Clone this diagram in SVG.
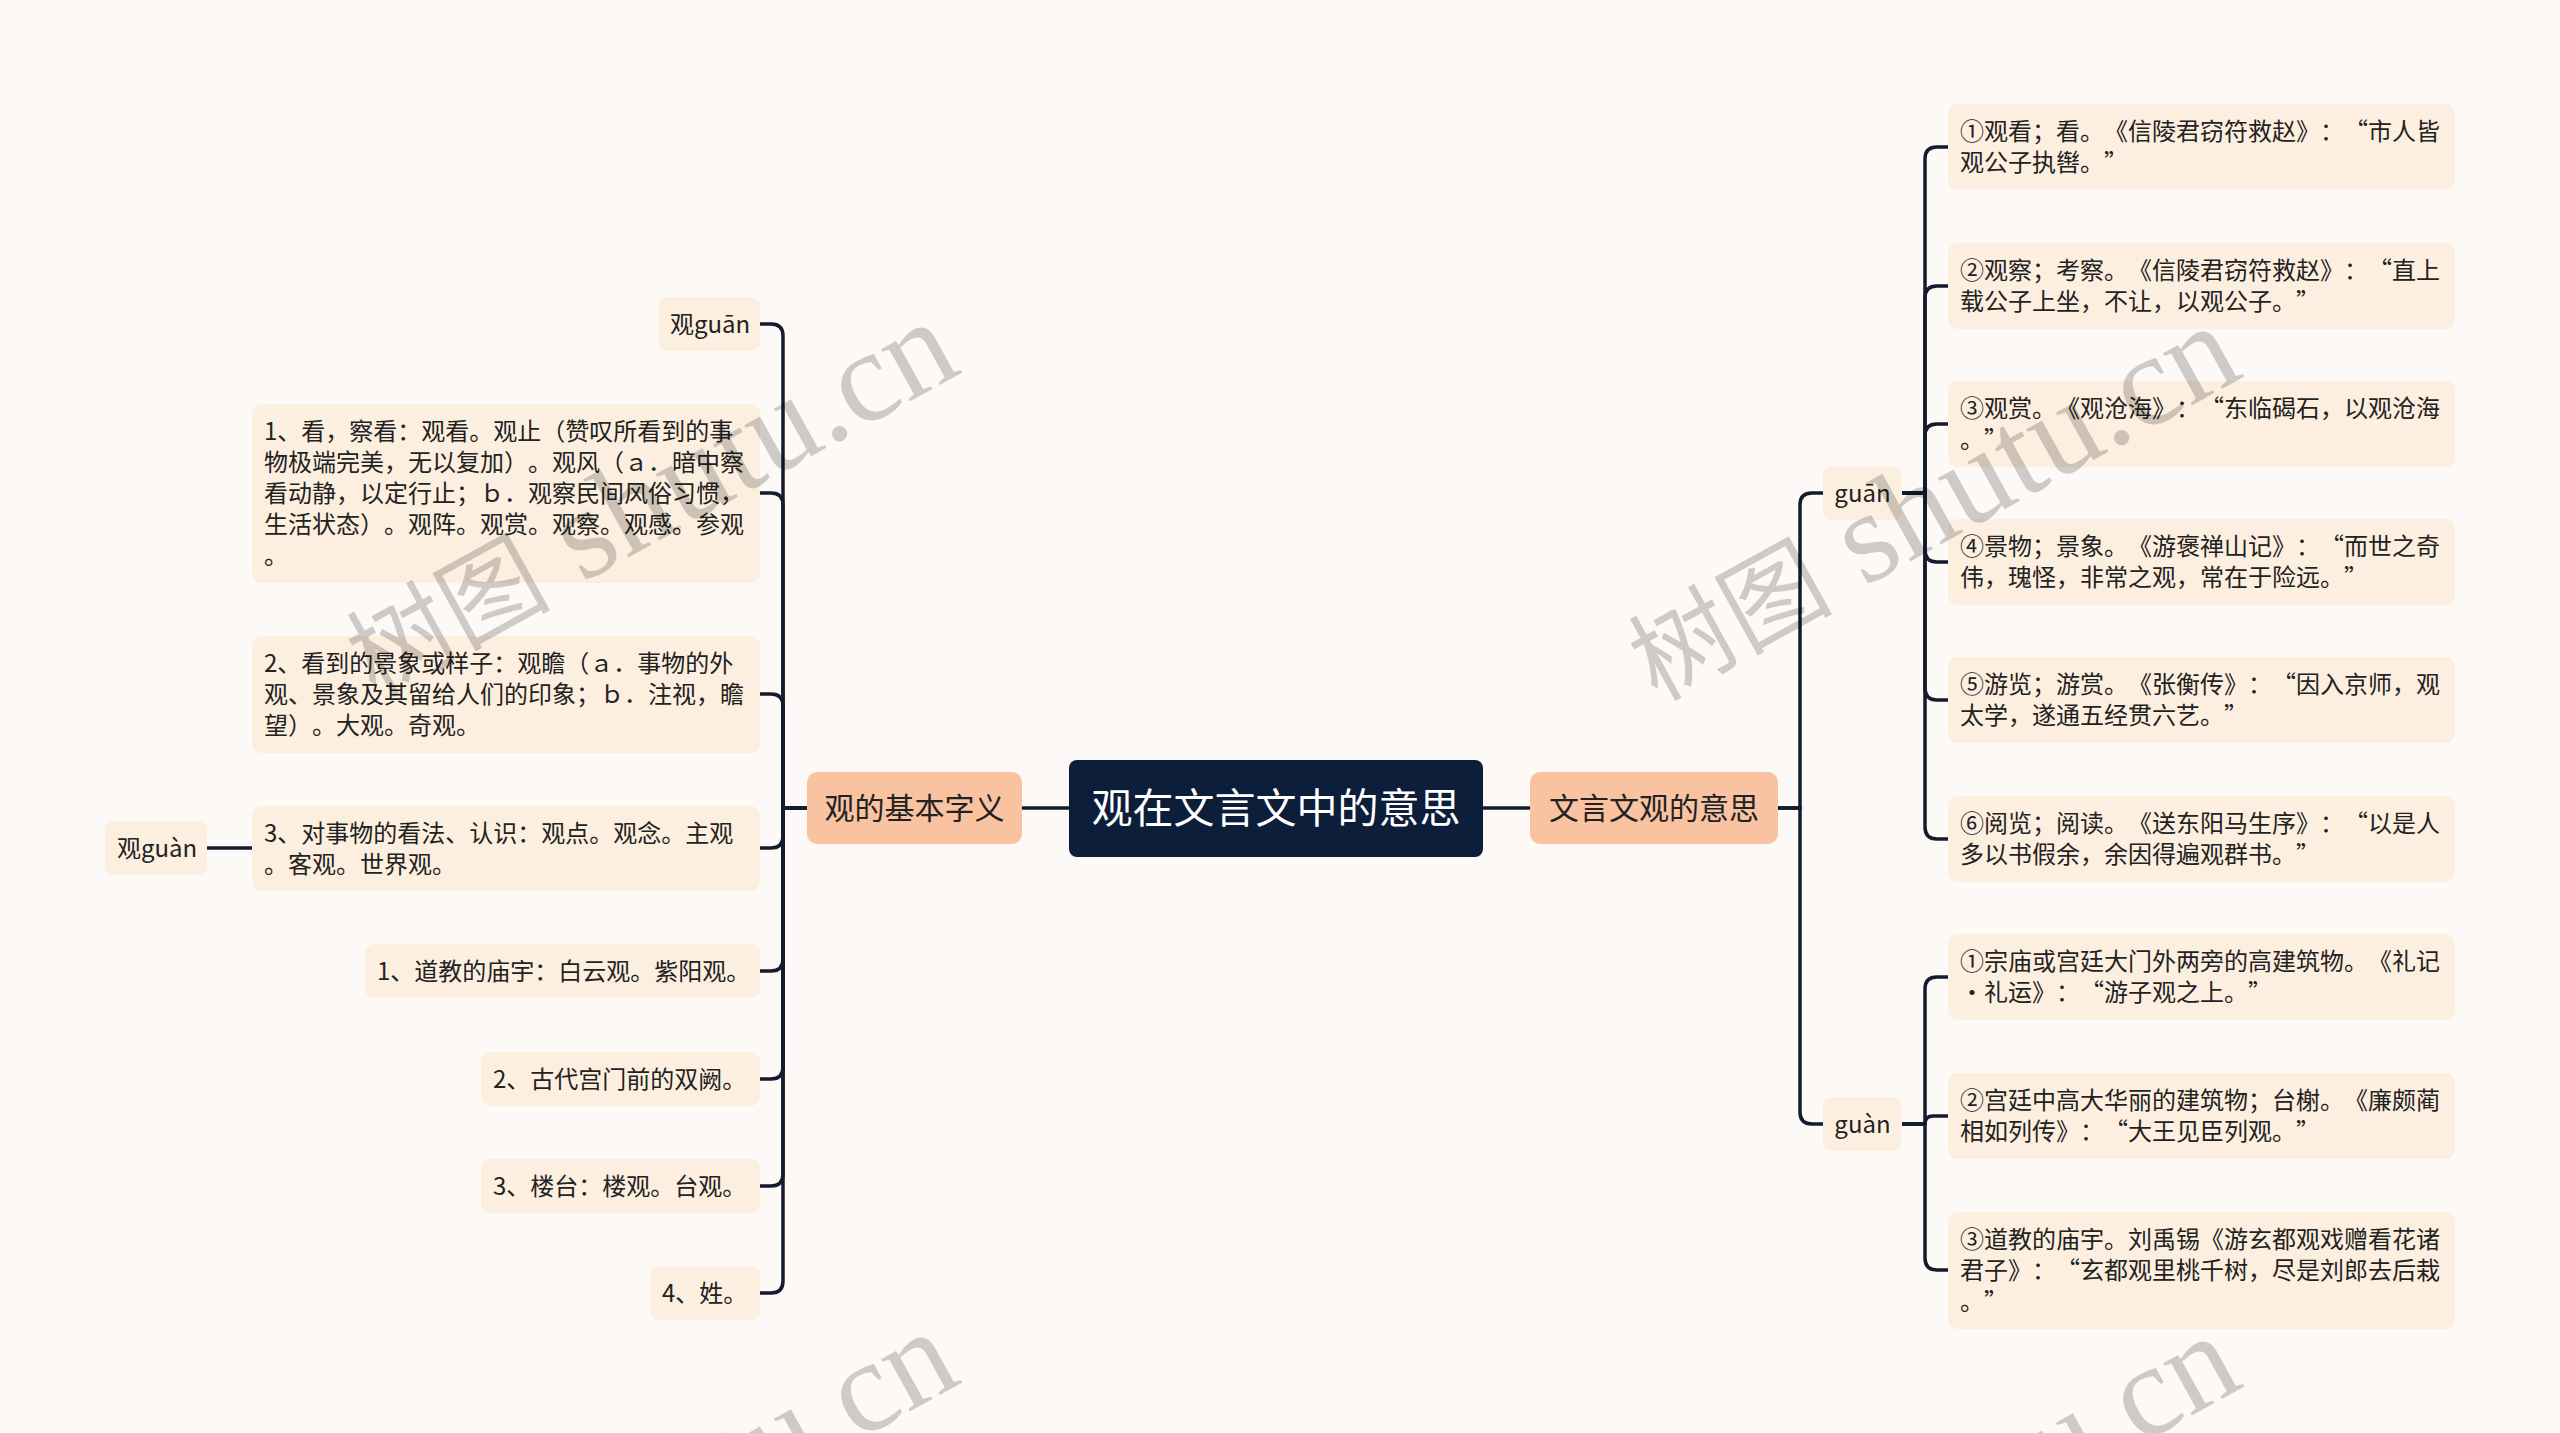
<svg xmlns="http://www.w3.org/2000/svg" width="2560" height="1433" viewBox="0 0 2560 1433">
<style>
.bg{fill:#fdf9f7}
.n rect{fill:#fdefdf}
.l1 rect{fill:#f9c3a2}
.c rect{fill:#0c1e3a}
text{font-family:"Noto Sans CJK SC","Noto Sans",sans-serif;fill:#222;text-spacing-trim:space-all}
.t{font-size:24px}
.q{font-variant-east-asian:full-width}
.l1 text{font-size:30px;text-anchor:middle}
.c text{font-size:41px;text-anchor:middle;fill:#fff}
.mid{text-anchor:middle}
#connectors path{fill:none;stroke:#131c2e;stroke-width:3.5;stroke-linecap:round}
.wm text{fill:#000;fill-opacity:0.19}
.wm .cj{font-family:"Noto Sans CJK SC",sans-serif;font-size:102px}
.wm .la{font-family:"Liberation Serif",serif;font-size:130px}
</style>
<rect class="bg" x="0" y="0" width="2560" height="1433"/>
<g id="connectors">
<path d="M1022,808 H1069"/>
<path d="M1483,808 H1530"/>
<path d="M207,848 H252"/>
<path d="M807,808 H783 V336 Q783,324 771,324 H760"/>
<path d="M807,808 H783 V505 Q783,493 771,493 H760"/>
<path d="M807,808 H783 V706 Q783,694 771,694 H760"/>
<path d="M807,808 H783 V836 Q783,848 771,848 H760"/>
<path d="M807,808 H783 V959 Q783,971 771,971 H760"/>
<path d="M807,808 H783 V1067 Q783,1079 771,1079 H760"/>
<path d="M807,808 H783 V1174 Q783,1186 771,1186 H760"/>
<path d="M807,808 H783 V1281 Q783,1293 771,1293 H760"/>
<path d="M1778,808 H1800 V505 Q1800,493 1812,493 H1823"/>
<path d="M1778,808 H1800 V1112 Q1800,1124 1812,1124 H1823"/>
<path d="M1902,493 H1925 V159 Q1925,147 1937,147 H1948"/>
<path d="M1902,493 H1925 V298 Q1925,286 1937,286 H1948"/>
<path d="M1902,493 H1925 V436 Q1925,424 1937,424 H1948"/>
<path d="M1902,493 H1925 V550 Q1925,562 1937,562 H1948"/>
<path d="M1902,493 H1925 V688 Q1925,700 1937,700 H1948"/>
<path d="M1902,493 H1925 V827 Q1925,839 1937,839 H1948"/>
<path d="M1902,1124 H1925 V989 Q1925,977 1937,977 H1948"/>
<path d="M1902,1124 H1925 Q1925,1116 1933,1116 H1948"/>
<path d="M1902,1124 H1925 V1258 Q1925,1270 1937,1270 H1948"/>
</g>
<g id="center" class="c"><rect x="1069" y="760" width="414" height="97" rx="8"/><text x="1276" y="823">观在文言文中的意思</text></g>
<g id="l1-left" class="l1"><rect x="807" y="772" width="215" height="72" rx="10"/><text x="914.5" y="819">观的基本字义</text></g>
<g id="l1-right" class="l1"><rect x="1530" y="772" width="248" height="72" rx="10"/><text x="1654" y="819">文言文观的意思</text></g>

<g id="n-guan1" class="n t"><rect x="658" y="297" width="102" height="54" rx="9"/><text x="670" y="333">观guān</text></g>
<g id="n-l1" class="n t"><rect x="252" y="404" width="508" height="179" rx="9"/>
<text x="264" y="440">1、看，察看：观看。观止（赞叹所看到的事</text>
<text x="264" y="471">物极端完美，无以复加）。观风（ａ．暗中察</text>
<text x="264" y="502">看动静，以定行止；ｂ．观察民间风俗习惯，</text>
<text x="264" y="533">生活状态）。观阵。观赏。观察。观感。参观</text>
<text x="264" y="564">。</text></g>
<g id="n-l2" class="n t"><rect x="252" y="636" width="508" height="117" rx="9"/>
<text x="264" y="672">2、看到的景象或样子：观瞻（ａ．事物的外</text>
<text x="264" y="703">观、景象及其留给人们的印象；ｂ．注视，瞻</text>
<text x="264" y="734">望）。大观。奇观。</text></g>
<g id="n-l3" class="n t"><rect x="252" y="806" width="508" height="85" rx="9"/>
<text x="264" y="842">3、对事物的看法、认识：观点。观念。主观</text>
<text x="264" y="873">。客观。世界观。</text></g>
<g id="n-guan2" class="n t"><rect x="105" y="821" width="102" height="54" rx="9"/><text x="117" y="857">观guàn</text></g>
<g id="n-l4" class="n t"><rect x="365" y="944" width="395" height="54" rx="9"/><text x="377" y="980">1、道教的庙宇：白云观。紫阳观。</text></g>
<g id="n-l5" class="n t"><rect x="481" y="1052" width="279" height="54" rx="9"/><text x="493" y="1088">2、古代宫门前的双阙。</text></g>
<g id="n-l6" class="n t"><rect x="481" y="1159" width="279" height="54" rx="9"/><text x="493" y="1195">3、楼台：楼观。台观。</text></g>
<g id="n-l7" class="n t"><rect x="650" y="1266" width="110" height="54" rx="9"/><text x="662" y="1302">4、姓。</text></g>

<g id="n-guan" class="n t"><rect x="1823" y="466" width="79" height="54" rx="9"/><text class="mid" x="1862.5" y="502">guān</text></g>
<g id="n-guan-b" class="n t"><rect x="1823" y="1097" width="79" height="54" rx="9"/><text class="mid" x="1862.5" y="1133">guàn</text></g>

<g id="n-r1" class="n t"><rect x="1948" y="104" width="507" height="86" rx="9"/>
<text x="1960" y="140">①观看；看。《信陵君窃符救赵》：<tspan class="q">“</tspan>市人皆</text>
<text x="1960" y="171">观公子执辔。<tspan class="q">”</tspan></text></g>
<g id="n-r2" class="n t"><rect x="1948" y="243" width="507" height="86" rx="9"/>
<text x="1960" y="279">②观察；考察。《信陵君窃符救赵》：<tspan class="q">“</tspan>直上</text>
<text x="1960" y="310">载公子上坐，不让，以观公子。<tspan class="q">”</tspan></text></g>
<g id="n-r3" class="n t"><rect x="1948" y="381" width="507" height="86" rx="9"/>
<text x="1960" y="417">③观赏。《观沧海》：<tspan class="q">“</tspan>东临碣石，以观沧海</text>
<text x="1960" y="448">。<tspan class="q">”</tspan></text></g>
<g id="n-r4" class="n t"><rect x="1948" y="519" width="507" height="86" rx="9"/>
<text x="1960" y="555">④景物；景象。《游褒禅山记》：<tspan class="q">“</tspan>而世之奇</text>
<text x="1960" y="586">伟，瑰怪，非常之观，常在于险远。<tspan class="q">”</tspan></text></g>
<g id="n-r5" class="n t"><rect x="1948" y="657" width="507" height="86" rx="9"/>
<text x="1960" y="693">⑤游览；游赏。《张衡传》：<tspan class="q">“</tspan>因入京师，观</text>
<text x="1960" y="724">太学，遂通五经贯六艺。<tspan class="q">”</tspan></text></g>
<g id="n-r6" class="n t"><rect x="1948" y="796" width="507" height="86" rx="9"/>
<text x="1960" y="832">⑥阅览；阅读。《送东阳马生序》：<tspan class="q">“</tspan>以是人</text>
<text x="1960" y="863">多以书假余，余因得遍观群书。<tspan class="q">”</tspan></text></g>
<g id="n-g1" class="n t"><rect x="1948" y="934" width="507" height="86" rx="9"/>
<text x="1960" y="970">①宗庙或宫廷大门外两旁的高建筑物。《礼记</text>
<text x="1960" y="1001">·礼运》：<tspan class="q">“</tspan>游子观之上。<tspan class="q">”</tspan></text></g>
<g id="n-g2" class="n t"><rect x="1948" y="1073" width="507" height="86" rx="9"/>
<text x="1960" y="1109">②宫廷中高大华丽的建筑物；台榭。《廉颇蔺</text>
<text x="1960" y="1140">相如列传》：<tspan class="q">“</tspan>大王见臣列观。<tspan class="q">”</tspan></text></g>
<g id="n-g3" class="n t"><rect x="1948" y="1212" width="507" height="117" rx="9"/>
<text x="1960" y="1248">③道教的庙宇。刘禹锡《游玄都观戏赠看花诸</text>
<text x="1960" y="1279">君子》：<tspan class="q">“</tspan>玄都观里桃千树，尽是刘郎去后栽</text>
<text x="1960" y="1310">。<tspan class="q">”</tspan></text></g>

<g class="wm">
<text transform="translate(375,698) rotate(-29)"><tspan class="cj">树图</tspan><tspan class="la"> shutu.cn</tspan></text>
<text transform="translate(1657,702) rotate(-29)"><tspan class="cj">树图</tspan><tspan class="la"> shutu.cn</tspan></text>
<text transform="translate(375,1708) rotate(-29)"><tspan class="cj">树图</tspan><tspan class="la"> shutu.cn</tspan></text>
<text transform="translate(1657,1712) rotate(-29)"><tspan class="cj">树图</tspan><tspan class="la"> shutu.cn</tspan></text>
</g>
</svg>
